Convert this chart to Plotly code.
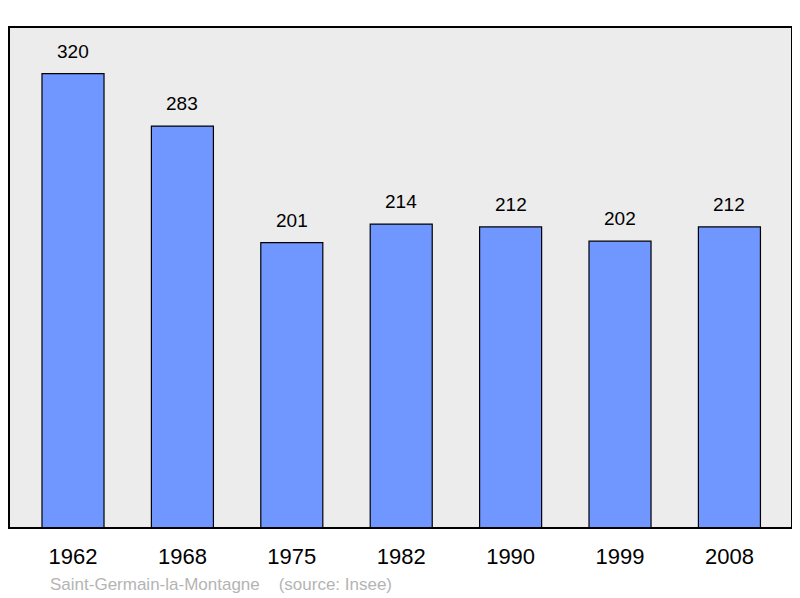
import plotly.graph_objects as go

years = ["1962", "1968", "1975", "1982", "1990", "1999", "2008"]
population = [320, 283, 201, 214, 212, 202, 212]
positions = list(range(len(years)))

fig = go.Figure()
fig.add_trace(go.Bar(
    x=positions, y=population, width=0.567,
    marker=dict(color="#7096ff", line=dict(color="#000000", width=1.2)),
    hoverinfo="skip",
))
for xi, v in zip(positions, population):
    fig.add_annotation(x=xi, y=v, text=str(v), showarrow=False,
                       yanchor="bottom", yshift=10,
                       font=dict(family="Liberation Sans, Arial", size=19, color="#000"))

fig.add_annotation(xref="paper", yref="paper", x=0.05, y=-0.112, xanchor="left",
                   yanchor="middle", showarrow=False,
                   text="Saint-Germain-la-Montagne &nbsp;&nbsp;&nbsp;(source: Insee)",
                   font=dict(family="Liberation Sans, Arial", size=17, color="#b4b4b4"))

fig.add_shape(type="rect", xref="paper", yref="paper", x0=0, x1=1, y0=0, y1=1,
              line=dict(color="#000", width=2), layer="above")

fig.update_layout(
    width=792, height=590,
    margin=dict(l=1, r=8, t=19, b=70),
    plot_bgcolor="#ececec", paper_bgcolor="#ffffff",
    showlegend=False,
    xaxis=dict(range=[-0.585, 6.572], tickmode="array", tickvals=positions, ticktext=years,
               showgrid=False, zeroline=False, ticks="outside", ticklen=9,
               tickcolor="rgba(0,0,0,0)",
               tickfont=dict(family="Liberation Sans, Arial", size=22, color="#000")),
    yaxis=dict(range=[0, 352.8], visible=False, showgrid=False, zeroline=False),
)

fig.write_html("out.html")
